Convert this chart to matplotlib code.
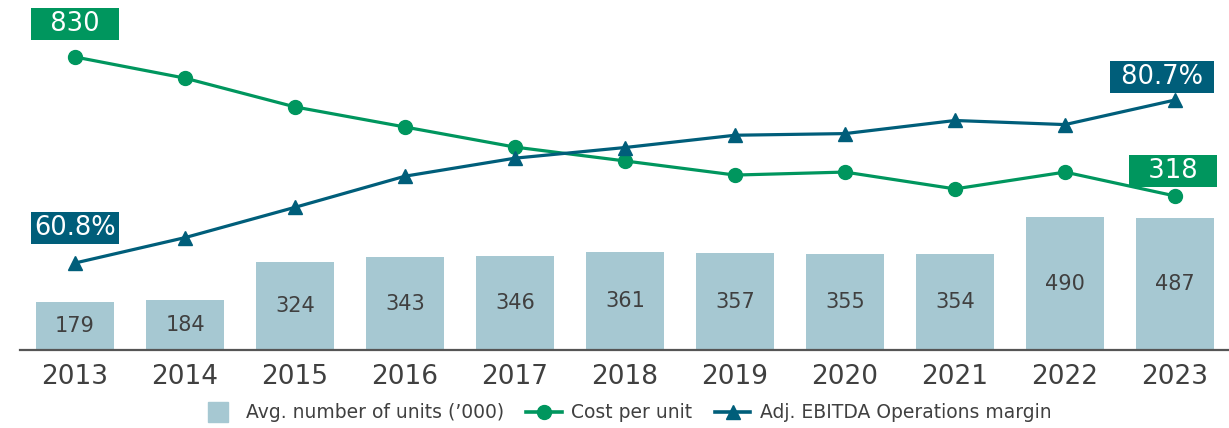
import matplotlib
matplotlib.use("Agg")
import matplotlib.pyplot as plt
from matplotlib.lines import Line2D
import numpy as np

years = ["2013", "2014", "2015", "2016", "2017", "2018", "2019", "2020", "2021", "2022", "2023"]
units = [179, 184, 324, 343, 346, 361, 357, 355, 354, 490, 487]
cost_per_unit = [830, 752, 646, 572, 498, 447, 395, 406, 344, 406, 318]
ebitda_margin = [60.8, 63.9, 67.6, 71.4, 73.6, 74.9, 76.4, 76.6, 78.2, 77.7, 80.7]

BAR = "#A6C8D2"
GREEN = "#00965E"
TEAL = "#005E7A"
TXT = "#404040"

fig = plt.figure(figsize=(12.29, 4.28), dpi=100)
ax = fig.add_axes([20/1229, 78/428, 1210/1229, 340/428])
x = np.arange(len(years))

ax.bar(x, units, width=0.71, color=BAR, zorder=2)
for xi, v in zip(x, units):
    ax.text(xi, v/2, str(v), ha="center", va="center", fontsize=15, color=TXT, zorder=3)
ax.set_xlim(-0.5, len(years)-0.5)
ax.set_ylim(0, 1257)
ax.set_xticks(x)
ax.set_xticklabels(years, fontsize=19, color=TXT)
ax.tick_params(axis="x", length=0, pad=10)
ax.set_yticks([])
for s in ["top", "left", "right"]:
    ax.spines[s].set_visible(False)
ax.spines["bottom"].set_color("#555555")
ax.spines["bottom"].set_linewidth(1.6)

ax2 = ax.twinx()
ax2.plot(x, cost_per_unit, color=GREEN, lw=2.3, marker="o", markersize=10, clip_on=False)
ax2.set_ylim(-249.4, 1003)
ax3 = ax.twinx()
ax3.plot(x, ebitda_margin, color=TEAL, lw=2.3, marker="^", markersize=10, clip_on=False)
ax3.set_ylim(50.18, 91.69)
for a in (ax2, ax3):
    a.set_yticks([])
    for s in a.spines.values():
        s.set_visible(False)

def box(a, xi, yv, text, color, dx, dy):
    a.annotate(text, (xi, yv), xytext=(dx, dy), textcoords="offset points",
               ha="center", va="center", fontsize=18.5, color="white",
               bbox=dict(boxstyle="square,pad=0.12", fc=color, ec="none"),
               annotation_clip=False)

box(ax2, x[0], cost_per_unit[0], "  " + str(cost_per_unit[0]) + "  ", GREEN, 0, 23.8)
box(ax2, x[-1], cost_per_unit[-1], "  " + str(cost_per_unit[-1]) + "  ", GREEN, -1.4, 18)
box(ax3, x[0], ebitda_margin[0], f"{ebitda_margin[0]:.1f}%", TEAL, 0, 25)
box(ax3, x[-1], ebitda_margin[-1], f" {ebitda_margin[-1]:.1f}% ", TEAL, -9.4, 16.6)

handles = [
    Line2D([], [], marker="s", linestyle="none", markersize=15, color=BAR),
    Line2D([], [], marker="o", color=GREEN, lw=2.6, markersize=10),
    Line2D([], [], marker="^", color=TEAL, lw=2.6, markersize=10),
]
labels = ["Avg. number of units (’000)", "Cost per unit", "Adj. EBITDA Operations margin"]
fig.legend(handles, labels, loc="center", bbox_to_anchor=(626/1229, 1-413/428), ncol=3,
           frameon=False, handlelength=1.9, columnspacing=1.2, handletextpad=0.5,
           prop={"size": 13.5}, labelcolor=TXT)

fig.savefig("out.png", dpi=100)
